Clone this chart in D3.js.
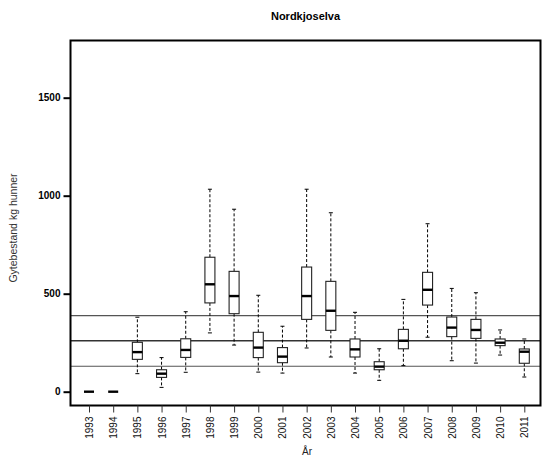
<!DOCTYPE html>
<html><head><meta charset="utf-8">
<script src="https://cdn.jsdelivr.net/npm/d3@7"></script>
<style>body{margin:0;background:#fff}svg{display:block}text{font-family:"Liberation Sans",Arial,sans-serif}</style>
</head><body><svg id="c" width="542" height="459"></svg>
<script>
const years = ["1993","1994","1995","1996","1997","1998","1999","2000","2001","2002","2003","2004","2005","2006","2007","2008","2009","2010","2011"];
const whiskerLow  = [0,0,92,22,99,300,238,100,95,223,177,95,58,133,278,158,146,187,75];
const q1          = [0,0,165,73,175,453,398,174,148,369,313,177,112,219,442,281,272,235,145];
const medians     = [0,0,202,92,213,548,488,225,179,488,413,216,128,260,520,327,315,250,204];
const q3          = [0,0,252,112,270,686,614,303,225,636,563,269,153,318,609,381,369,269,218];
const whiskerHigh = [0,0,380,174,408,1033,931,492,334,1033,913,405,219,471,857,527,505,315,269];
const refLines = [388,260,130];
const yTicks = [0,500,1000,1500];
const title = "Nordkjoselva", xTitle = "År", yTitle = "Gytebestand kg hunner";

const svg = d3.select("#c");
const L=70.5, R=540.5, T=40.5, B=405.5;
const x = d3.scalePoint().domain(years).range([89,524.3]);
const y = d3.scaleLinear().domain([0,1500]).range([391.7,97.7]);
const bw = 10, cw = 4;

// reference lines
svg.append("g").selectAll("line").data(refLines).join("line")
  .attr("x1",L).attr("x2",R).attr("y1",d=>y(d)).attr("y2",d=>y(d))
  .attr("stroke",(d,i)=>i===1?"#333":"#555").attr("stroke-width",(d,i)=>i===1?1.6:1.1);

const data = years.map((yr,i)=>({yr,lo:whiskerLow[i],q1:q1[i],med:medians[i],q3:q3[i],hi:whiskerHigh[i]}));
const g = svg.append("g").selectAll("g").data(data).join("g").attr("transform",d=>`translate(${x(d.yr)},0)`);
g.filter(d=>d.hi>d.q3).append("line").attr("y1",d=>y(d.q3)).attr("y2",d=>y(d.hi)).attr("stroke","#000").attr("stroke-dasharray","3,2");
g.filter(d=>d.lo<d.q1).append("line").attr("y1",d=>y(d.q1)).attr("y2",d=>y(d.lo)).attr("stroke","#000").attr("stroke-dasharray","3,2");
g.filter(d=>d.hi>d.q3).append("line").attr("x1",-cw/2).attr("x2",cw/2).attr("y1",d=>y(d.hi)).attr("y2",d=>y(d.hi)).attr("stroke","#000");
g.filter(d=>d.lo<d.q1).append("line").attr("x1",-cw/2).attr("x2",cw/2).attr("y1",d=>y(d.lo)).attr("y2",d=>y(d.lo)).attr("stroke","#000");
g.append("rect").attr("x",-bw/2).attr("width",bw).attr("y",d=>y(d.q3)).attr("height",d=>y(d.q1)-y(d.q3))
  .attr("fill","#fff").attr("stroke","#222").attr("stroke-width",1.1);
g.append("line").attr("x1",-bw/2).attr("x2",bw/2).attr("y1",d=>y(d.med)).attr("y2",d=>y(d.med)).attr("stroke","#000").attr("stroke-width",2.4);

// frame
svg.append("rect").attr("x",L).attr("y",T).attr("width",R-L).attr("height",B-T).attr("fill","none").attr("stroke","#000").attr("stroke-width",2);

// y axis
const ya = svg.append("g").attr("transform",`translate(${L},0)`)
  .call(d3.axisLeft(y).tickValues(yTicks).tickSize(7).tickPadding(3).tickFormat(d3.format("d")));
ya.select(".domain").remove();
ya.selectAll("line").attr("stroke","#000").attr("stroke-width",2);
ya.selectAll("text").attr("font-size",10).attr("font-weight","bold").attr("fill","#000").style("font-family","'Liberation Sans',Arial,sans-serif");

// x axis
const xa = svg.append("g").attr("transform",`translate(0,${B})`)
  .call(d3.axisBottom(x).tickSize(7).tickPadding(3));
xa.select(".domain").remove();
xa.selectAll("line").attr("stroke","#333").attr("stroke-width",1);
xa.selectAll("text").attr("font-size",10).attr("fill","#111").style("font-family","'Liberation Sans',Arial,sans-serif")
  .attr("transform","rotate(-90)").attr("text-anchor","end").attr("dy","0.35em").attr("x",-11).attr("y",0);

svg.append("text").attr("x",305.5).attr("y",20).attr("text-anchor","middle").attr("font-size",11).attr("font-weight","bold").text(title);
svg.append("text").attr("x",307).attr("y",455).attr("text-anchor","middle").attr("font-size",10).attr("fill","#222").text(xTitle);
svg.append("text").attr("transform","translate(17,228) rotate(-90)").attr("text-anchor","middle").attr("font-size",10.5).attr("fill","#333").text(yTitle);
</script></body></html>
